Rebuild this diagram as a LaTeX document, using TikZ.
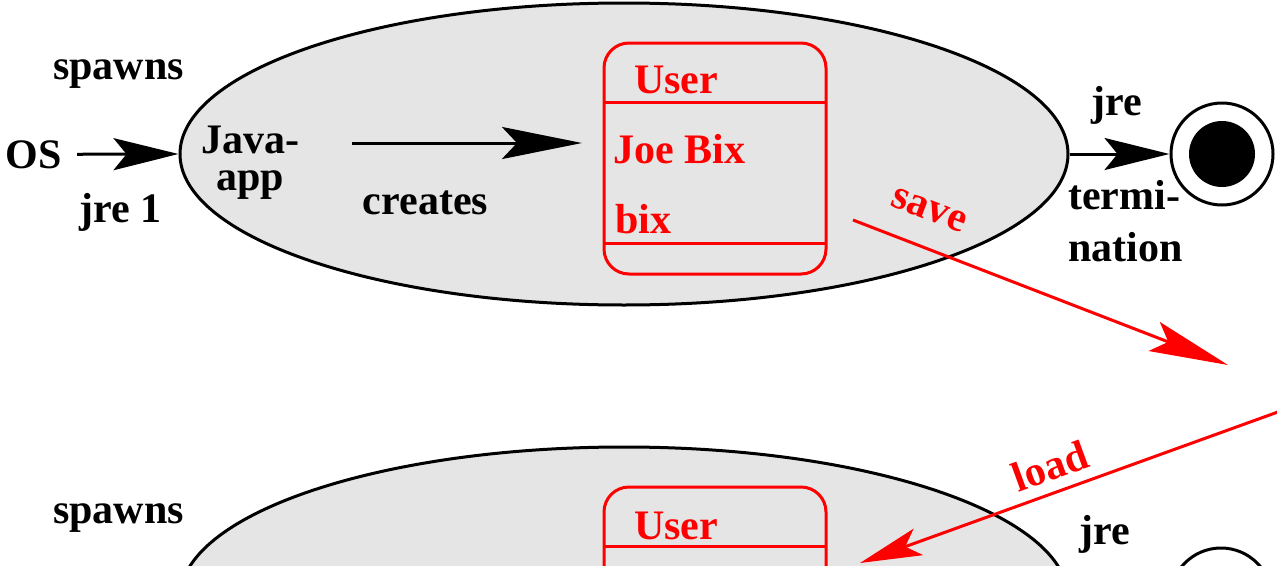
\documentclass[tikz,border=0pt]{standalone}
\usepackage{fontspec}
\setmainfont{Liberation Serif}
\usetikzlibrary{arrows.meta,shapes.geometric}
\begin{document}
\begin{tikzpicture}[x=1pt,y=-1pt,
  lbl/.style={font=\fontsize{42}{37}\selectfont\bfseries, inner sep=0pt, anchor=base},
  rlbl/.style={lbl, text=red},
  state/.style={draw, line width=3pt, fill=gray!20, ellipse, minimum width=888pt, minimum height=302pt, inner sep=0pt},
  classbox/.style={draw=red, line width=3pt, rounded corners=25pt, minimum width=222pt, minimum height=231pt, inner sep=0pt, outer sep=0pt},
  divider/.style={draw=red, line width=3pt},
  endstate/.style={draw, circle, line width=3pt, fill=white, minimum size=102pt, inner sep=0pt},
  enddot/.style={circle, fill=black, minimum size=66pt, inner sep=0pt},
  blk/.style={line width=3pt, -{Stealth[length=65pt,width=32pt,inset=13pt]}},
  blkL/.style={line width=3pt, -{Stealth[length=80pt,width=32pt,inset=15pt]}},
  redS/.style={draw=red, line width=3pt, -{Stealth[length=79pt,width=31pt,inset=15pt]}, color=red},
  redL/.style={draw=red, line width=3pt, -{Stealth[length=62pt,width=28pt,inset=14pt]}, color=red}
]
\useasboundingbox (0,0) rectangle (1277,565);
\clip (0,0) rectangle (1277,565);

% ---------- top state ----------
\node[state] (app1) at (624,154) {};
\node[classbox] (user1) at (715,158.5) {};
\draw[divider] (user1.west |- 0,102) -- (user1.east |- 0,102);
\draw[divider] (user1.west |- 0,243) -- (user1.east |- 0,243);
\node[rlbl] (uname1) at (676,93) {User};
\node[rlbl, anchor=base west] (joe) at (613,163) {Joe Bix};
\node[rlbl, anchor=base west] (bix) at (615,233) {bix};

\node[lbl] (spawns1) at (118.5,79) {spawns};
\node[lbl] (os) at (34,168) {OS};
\node[lbl] (jre1) at (121,222) {jre 1};
\node[lbl, align=center] (ja) at (250,190) {Java-\\app};
\node[lbl] (creates) at (425.5,214) {creates};

\node[endstate] (end1) at (1222,154) {};
\node[enddot] (dot1) at (end1.center) {};
\node[lbl] (jreT) at (1117,115) {jre};
\node[lbl, anchor=base west] (termi) at (1068,209) {termi-};
\node[lbl, anchor=base west] (nation) at (1068,261) {nation};

\draw[blk, shorten <=15pt] (os.east) -- (app1.west);
\draw[blkL, shorten <=53pt, shorten >=22pt] (ja.east |- 0,143) -- (user1.west |- 0,143);
\draw[blk] (app1.east) -- (end1.west);

% ---------- bottom state ----------
\node[state] (app2) at (624,598) {};
\node[classbox] (user2) at (715,602.5) {};
\draw[divider] (user2.west |- 0,546) -- (user2.east |- 0,546);
\node[rlbl] (uname2) at (676,539) {User};
\node[lbl] (spawns2) at (118.5,523) {spawns};
\node[endstate] (end2) at (1221,599) {};
\node[lbl] (jreB) at (1105,544) {jre};

% ---------- save / load ----------
\coordinate (s0) at (853,220);
\coordinate (s1) at (1228,365);
\draw[redS] (s0) -- (s1);
\node[rlbl, anchor=center, rotate=-21] (save) at (929,210) {save};

\coordinate (l0) at (1300,404);
\coordinate (l1) at (860,563);
\draw[redL] (l0) -- (l1);
\node[rlbl, anchor=center, rotate=20] (load) at (1050,466) {load};
\end{tikzpicture}
\end{document}
